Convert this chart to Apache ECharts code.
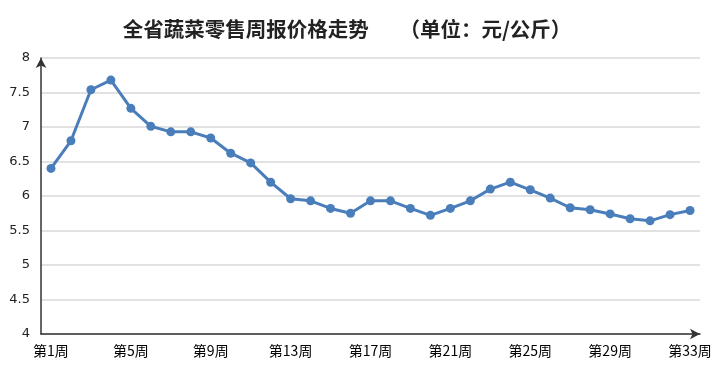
<!DOCTYPE html>
<html><head><meta charset="utf-8">
<script src="https://cdn.jsdelivr.net/npm/echarts@6/dist/echarts.min.js"></script>
<style>html,body{margin:0;padding:0;background:#fff}#c{width:715px;height:373px}</style>
</head><body><div id="c"></div>
<script>
const categories = [];
for (let i = 1; i <= 33; i++) categories.push('第' + i + '周');
const prices = [6.40, 6.80, 7.54, 7.68, 7.27, 7.01, 6.93, 6.93, 6.84, 6.62,
  6.48, 6.20, 5.96, 5.93, 5.82, 5.75, 5.93, 5.93, 5.82, 5.72,
  5.82, 5.93, 6.10, 6.20, 6.09, 5.97, 5.83, 5.80, 5.74, 5.67,
  5.64, 5.73, 5.79];
const titleText = '全省蔬菜零售周报价格走势　　（单位：元/公斤）';

const chart = echarts.init(document.getElementById('c'));
chart.setOption({
  animation: false,
  title: {
    text: titleText, left: 342, textAlign: 'center', top: 14,
    textStyle: { fontSize: 20.5, fontWeight: 'bold', color: '#222', fontFamily: 'Noto Sans CJK SC' }
  },
  grid: { left: 41, right: 15, top: 58, bottom: 39 },
  xAxis: {
    type: 'category', data: categories, boundaryGap: true,
    axisLine: { show: true, symbol: ['none', 'arrow'], symbolSize: [8, 10], lineStyle: { color: '#333', width: 1.5 } },
    axisTick: { show: false },
    axisLabel: { interval: 3, color: '#000', fontSize: 14, margin: 10, fontFamily: 'Noto Sans CJK SC' }
  },
  yAxis: {
    type: 'value', min: 4, max: 8, interval: 0.5,
    axisLine: { show: true, symbol: ['none', 'arrow'], symbolSize: [8, 10], lineStyle: { color: '#333', width: 1.5 } },
    axisTick: { show: false },
    axisLabel: { color: '#222', fontSize: 13, margin: 11, fontFamily: 'DejaVu Sans' },
    splitLine: { lineStyle: { color: '#d9d9d9', width: 1.5 } }
  },
  series: [{
    type: 'line', data: prices,
    symbol: 'circle', symbolSize: 9,
    lineStyle: { color: '#4a7ebb', width: 3 },
    itemStyle: { color: '#4a7ebb' }
  }]
});
</script></body></html>
